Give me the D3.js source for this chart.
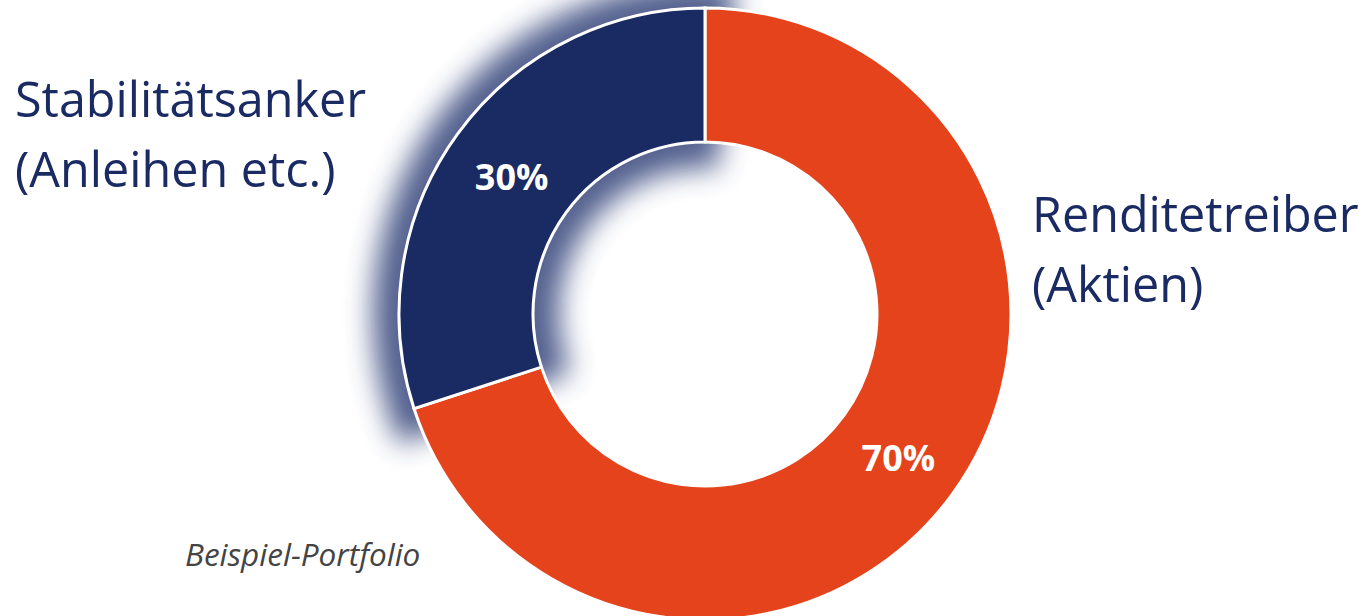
<!DOCTYPE html>
<html>
<head>
<meta charset="utf-8">
<script src="https://cdn.jsdelivr.net/npm/d3@7"></script>
<style>
  html, body { margin: 0; padding: 0; background: #fff; overflow: hidden; }
  svg { display: block; font-family: "Open Sans", sans-serif; }
</style>
</head>
<body>
<div id="chart"></div>
<script>
// Data
const segments = ["Renditetreiber (Aktien)", "Stabilitätsanker (Anleihen etc.)"];
const shares = [70, 30];
const colors = ["#e5431c", "#1a2a62"];
const labelLines = [["Renditetreiber", "(Aktien)"], ["Stabilitätsanker", "(Anleihen etc.)"]];
const caption = "Beispiel-Portfolio";

// Set dimensions
const width = 1366, height = 616;
const cx = 705, cy = 314;
const outerR = 306, innerR = 172;

const svg = d3.select("#chart")
    .append("svg")
    .attr("width", width)
    .attr("height", height);

// Blur filter for the shadow behind the bond slice
const defs = svg.append("defs");
defs.append("filter")
    .attr("id", "soft")
    .attr("x", "-50%").attr("y", "-50%")
    .attr("width", "200%").attr("height", "200%")
    .append("feGaussianBlur")
    .attr("stdDeviation", 14);

const pie = d3.pie().sort(null).value(d => d);
const arcs = pie(shares);

const arc = d3.arc().innerRadius(innerR).outerRadius(outerR);

const g = svg.append("g")
    .attr("transform", `translate(${cx},${cy})`);

// Shadow of the highlighted (navy) slice
const shadowArc = d3.arc().innerRadius(innerR - 26).outerRadius(outerR + 26);
const navy = arcs[1];
g.append("path")
    .attr("d", shadowArc({ startAngle: navy.startAngle - 0.09, endAngle: navy.endAngle + 0.09 }))
    .attr("fill", "#34457a")
    .attr("opacity", 0.85)
    .attr("filter", "url(#soft)");

// Slices
g.selectAll(".slice")
    .data(arcs)
    .enter()
    .append("path")
    .attr("class", "slice")
    .attr("d", arc)
    .attr("fill", (d, i) => colors[i])
    .attr("stroke", "#fff")
    .attr("stroke-width", 3);

// Percent labels
g.selectAll(".pct")
    .data(arcs)
    .enter()
    .append("text")
    .attr("class", "pct")
    .attr("transform", d => `translate(${arc.centroid(d)})`)
    .attr("text-anchor", "middle")
    .attr("dy", "0.46em")
    .attr("fill", "#fff")
    .attr("font-size", 36)
    .attr("font-weight", 700)
    .text(d => d.data + "%");

// Category labels
const labelPos = [{ x: 1032, y: 232 }, { x: 15, y: 117 }];
labelLines.forEach((lines, i) => {
    const t = svg.append("text")
        .attr("x", labelPos[i].x)
        .attr("y", labelPos[i].y)
        .attr("fill", "#1a2a62")
        .attr("font-size", 48.5);
    lines.forEach((line, j) => {
        t.append("tspan")
            .attr("x", labelPos[i].x)
            .attr("dy", j === 0 ? 0 : 70)
            .text(line);
    });
});

// Caption
svg.append("text")
    .attr("x", 185)
    .attr("y", 566)
    .attr("fill", "#444")
    .attr("font-size", 31.5)
    .attr("font-style", "italic")
    .text(caption);
</script>
</body>
</html>
